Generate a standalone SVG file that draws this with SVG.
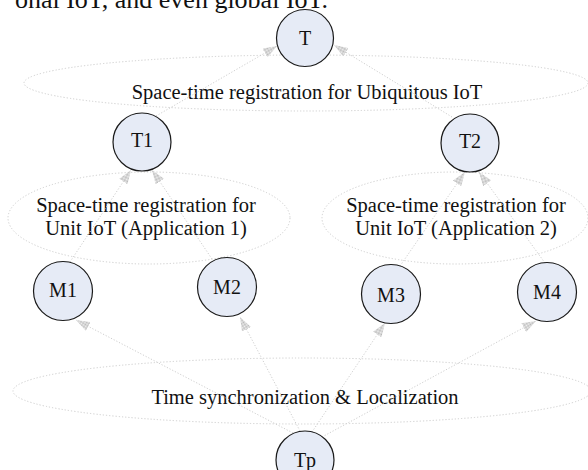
<svg xmlns="http://www.w3.org/2000/svg" width="588" height="470" viewBox="0 0 588 470">
  <style>
    .txt { font-family: "Liberation Serif", "Times New Roman", serif; fill: #111; }
    .node circle { fill: #e6ebf6; stroke: #1a1a1a; stroke-width: 1.2; }
    .node text { font-size: 20px; text-anchor: middle; }
    .zone { fill: none; stroke: #cdcdcd; stroke-width: 1; stroke-dasharray: 1.2 2; }
    .zone-label { font-size: 20.5px; text-anchor: middle; }
    .link { fill: none; stroke: #cfcfcf; stroke-width: 1; stroke-dasharray: 1.2 1.8; marker-end: url(#head); }
  </style>
  <defs>
    <pattern id="dither" width="2" height="2" patternUnits="userSpaceOnUse">
      <rect width="2" height="2" fill="#f2f2f2"/>
      <rect width="1" height="1" fill="#b8b8b8"/>
      <rect x="1" y="1" width="1" height="1" fill="#b8b8b8"/>
    </pattern>
    <marker id="head" markerWidth="14" markerHeight="10" refX="14" refY="5" orient="auto" markerUnits="userSpaceOnUse">
      <path d="M0,0 L14,5 L0,10 Z" fill="url(#dither)"/>
    </marker>
  </defs>

  <rect width="588" height="470" fill="#ffffff"/>

  <!-- running text line from the page above -->
  <text class="txt" x="328" y="8" font-size="26" text-anchor="end">onal IoT, and even global IoT.</text>

  <!-- registration / synchronisation zones -->
  <g id="zones">
    <ellipse class="zone" cx="306" cy="83" rx="282" ry="28"/>
    <ellipse class="zone" cx="149" cy="218" rx="141" ry="46"/>
    <ellipse class="zone" cx="455" cy="218" rx="133" ry="46"/>
    <ellipse class="zone" cx="302" cy="391" rx="289" ry="33"/>
  </g>

  <g id="zone-labels">
    <text class="txt zone-label" x="307" y="99">Space-time registration for Ubiquitous IoT</text>
    <text class="txt zone-label" x="146" y="212">Space-time registration for</text>
    <text class="txt zone-label" x="146" y="235">Unit IoT (Application 1)</text>
    <text class="txt zone-label" x="456" y="212">Space-time registration for</text>
    <text class="txt zone-label" x="456" y="235">Unit IoT (Application 2)</text>
    <text class="txt zone-label" x="305" y="404">Time synchronization &amp; Localization</text>
  </g>

  <!-- connectors -->
  <g id="connectors">
    <line class="link" x1="156" y1="116" x2="277" y2="46"/>
    <line class="link" x1="452" y1="117" x2="334" y2="45"/>
    <line class="link" x1="70" y1="262" x2="131" y2="170"/>
    <line class="link" x1="212" y1="259" x2="152" y2="170"/>
    <line class="link" x1="400" y1="266" x2="465" y2="172"/>
    <line class="link" x1="545" y1="263" x2="479" y2="172"/>
    <line class="link" x1="293" y1="433" x2="76" y2="320"/>
    <line class="link" x1="300" y1="431" x2="240" y2="317"/>
    <line class="link" x1="312" y1="432" x2="385" y2="323"/>
    <line class="link" x1="322" y1="437" x2="536" y2="321"/>
  </g>

  <!-- nodes -->
  <g id="T" class="node"><circle cx="305" cy="38" r="28.5"/><text class="txt" x="305" y="45">T</text></g>
  <g id="T1" class="node"><circle cx="142" cy="142" r="29"/><text class="txt" x="142" y="147">T1</text></g>
  <g id="T2" class="node"><circle cx="470" cy="143" r="29"/><text class="txt" x="470" y="148">T2</text></g>
  <g id="M1" class="node"><circle cx="63" cy="291" r="29.5"/><text class="txt" x="63" y="297">M1</text></g>
  <g id="M2" class="node"><circle cx="227" cy="287" r="29.5"/><text class="txt" x="227" y="294">M2</text></g>
  <g id="M3" class="node"><circle cx="391" cy="294" r="29.5"/><text class="txt" x="391" y="302">M3</text></g>
  <g id="M4" class="node"><circle cx="547" cy="292" r="29.5"/><text class="txt" x="547" y="299">M4</text></g>
  <g id="Tp" class="node"><circle cx="305" cy="460" r="29"/><text class="txt" x="305" y="467">Tp</text></g>
</svg>
